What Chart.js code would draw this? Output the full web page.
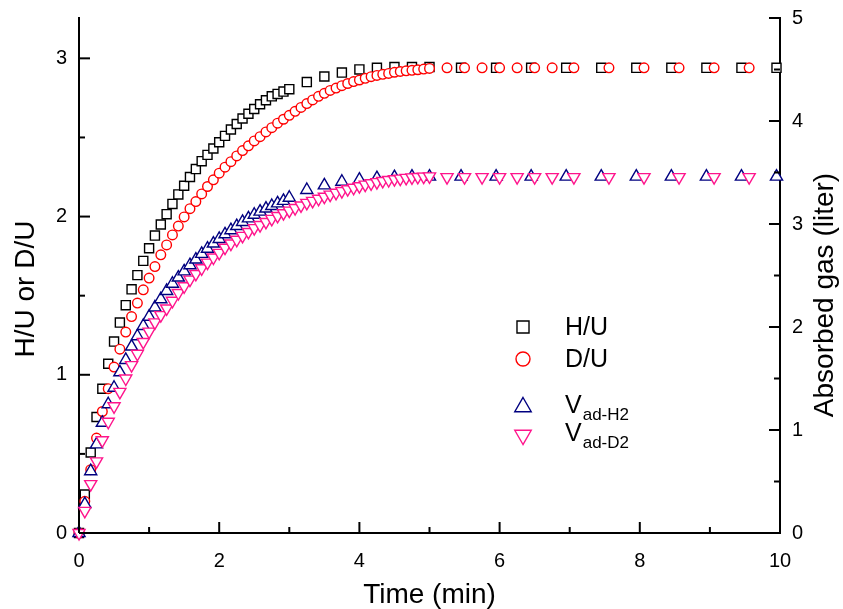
<!DOCTYPE html>
<html><head><meta charset="utf-8">
<script src="https://cdn.jsdelivr.net/npm/chart.js@4.4.1/dist/chart.umd.min.js"></script>
<style>html,body{margin:0;padding:0;background:#fff}#wrap{width:843px;height:609px;position:relative}</style>
</head><body><div id="wrap"><canvas id="c" width="843" height="609"></canvas></div>
<script>
// ---- data (time in min) ----
const TIME_H = [0,0.083,0.167,0.25,0.333,0.417,0.5,0.583,0.667,0.75,0.833,0.917,1,1.083,1.167,1.25,1.333,1.417,1.5,1.583,1.667,1.75,1.833,1.917,2,2.083,2.167,2.25,2.333,2.417,2.5,2.583,2.667,2.75,2.833,2.917,3,3.25,3.5,3.75,4,4.25,4.5,4.75,5,5.45,5.95,6.45,6.95,7.45,7.95,8.45,8.95,9.45,9.95];
const HU = [0,0.243,0.509,0.733,0.912,1.07,1.21,1.33,1.44,1.54,1.63,1.72,1.80,1.88,1.95,2.015,2.08,2.14,2.195,2.25,2.30,2.35,2.39,2.43,2.47,2.51,2.55,2.585,2.62,2.65,2.68,2.71,2.735,2.76,2.775,2.79,2.805,2.85,2.885,2.91,2.93,2.94,2.945,2.945,2.945,2.94,2.94,2.94,2.94,2.94,2.94,2.94,2.94,2.94,2.94];
const V_H2 = [0,0.28,0.60,0.86,1.07,1.25,1.41,1.56,1.68,1.81,1.91,2.01,2.10,2.19,2.27,2.35,2.42,2.48,2.54,2.60,2.655,2.71,2.76,2.81,2.855,2.90,2.94,2.98,3.02,3.055,3.09,3.12,3.15,3.175,3.20,3.225,3.255,3.33,3.375,3.41,3.43,3.445,3.455,3.46,3.46,3.46,3.46,3.46,3.46,3.46,3.46,3.46,3.46,3.46,3.46];
const TIME_D = [0,0.083,0.167,0.25,0.333,0.417,0.5,0.583,0.667,0.75,0.833,0.917,1,1.083,1.167,1.25,1.333,1.417,1.5,1.583,1.667,1.75,1.833,1.917,2,2.083,2.167,2.25,2.333,2.417,2.5,2.583,2.667,2.75,2.833,2.917,3,3.083,3.167,3.25,3.333,3.417,3.5,3.583,3.667,3.75,3.833,3.917,4,4.083,4.167,4.25,4.333,4.417,4.5,4.583,4.667,4.75,4.833,4.917,5,5.25,5.5,5.75,6,6.25,6.5,6.75,7.06,7.56,8.06,8.56,9.06,9.56];
const DU = [0,0.20,0.40,0.60,0.768,0.912,1.049,1.162,1.27,1.368,1.453,1.537,1.611,1.684,1.758,1.821,1.884,1.94,1.998,2.05,2.095,2.143,2.19,2.232,2.274,2.312,2.347,2.383,2.417,2.447,2.478,2.505,2.535,2.562,2.59,2.615,2.64,2.665,2.69,2.714,2.737,2.76,2.779,2.797,2.812,2.827,2.841,2.853,2.863,2.874,2.884,2.892,2.899,2.905,2.912,2.917,2.921,2.924,2.928,2.932,2.936,2.94,2.94,2.94,2.94,2.94,2.94,2.94,2.94,2.94,2.94,2.94,2.94,2.94];
const V_D2 = [0,0.215,0.475,0.695,0.90,1.08,1.23,1.37,1.50,1.63,1.74,1.855,1.955,2.045,2.115,2.18,2.255,2.33,2.395,2.46,2.515,2.57,2.625,2.675,2.72,2.77,2.81,2.847,2.885,2.923,2.96,2.99,3.02,3.05,3.078,3.105,3.13,3.155,3.18,3.205,3.225,3.245,3.265,3.285,3.303,3.32,3.338,3.352,3.367,3.382,3.395,3.407,3.418,3.427,3.435,3.441,3.448,3.453,3.457,3.46,3.462,3.455,3.455,3.455,3.455,3.455,3.455,3.455,3.455,3.455,3.455,3.455,3.455,3.455];

// ---- axes ----
const X_TICKS = [0,2,4,6,8,10];
const X_MINOR = [1,3,5,7,9];
const Y_TICKS = [0,1,2,3];
const Y_MINOR = [0.5,1.5,2.5];
const Y_MAX = 3.255;
const Y2_TICKS = [0,1,2,3,4,5];
const Y2_MINOR = [0.5,1.5,2.5,3.5,4.5];
const X_TITLE = 'Time (min)';
const Y_TITLE = 'H/U or D/U';
const Y2_TITLE = 'Absorbed gas (liter)';
const NAMES = ['H/U','D/U','V','V'];
const SUBS = ['','','ad-H2','ad-D2'];

const FONT = "'Liberation Sans', Arial, Helvetica, sans-serif";
const COLORS = ['#000000','#ff0000','#000080','#ff148c'];

const toXY = (xs, ys) => xs.map((x,i)=>({x:x, y:ys[i]}));

const inwardTicks = {
  id:'inwardTicks',
  afterDraw(chart){
    const ctx = chart.ctx, a = chart.chartArea;
    const sx = chart.scales.x, sy = chart.scales.y, sy2 = chart.scales.y2;
    const MAJ = 11, MIN = 6;
    ctx.save();
    ctx.strokeStyle = '#000'; ctx.lineWidth = 2; ctx.lineCap = 'butt';
    const seg = (x1,y1,x2,y2)=>{ctx.beginPath();ctx.moveTo(x1,y1);ctx.lineTo(x2,y2);ctx.stroke();};
    X_TICKS.forEach(v=>{const p=sx.getPixelForValue(v); seg(p,a.bottom,p,a.bottom-MAJ);});
    X_MINOR.forEach(v=>{const p=sx.getPixelForValue(v); seg(p,a.bottom,p,a.bottom-MIN);});
    Y_TICKS.forEach(v=>{const p=sy.getPixelForValue(v); seg(a.left,p,a.left+MAJ,p);});
    Y_MINOR.forEach(v=>{const p=sy.getPixelForValue(v); seg(a.left,p,a.left+MIN,p);});
    Y2_TICKS.forEach(v=>{const p=sy2.getPixelForValue(v); seg(a.right,p,a.right-MAJ,p);});
    Y2_MINOR.forEach(v=>{const p=sy2.getPixelForValue(v); seg(a.right,p,a.right-MIN,p);});
    // vertical axis titles (both read bottom-to-top)
    ctx.fillStyle = '#000';
    ctx.font = '28px ' + FONT;
    ctx.textAlign = 'center'; ctx.textBaseline = 'middle';
    ctx.save();
    ctx.translate(26, 289);
    ctx.rotate(-Math.PI/2);
    ctx.fillText(Y_TITLE, 0, 0);
    ctx.restore();
    ctx.translate(825, 295);
    ctx.rotate(-Math.PI/2);
    ctx.fillText(Y2_TITLE, 0, 0);
    ctx.restore();
  }
};

const customLegend = {
  id:'customLegend',
  afterDraw(chart){
    const ctx = chart.ctx;
    const rows = [
      {sx:523, sy:327, ty:335, style:'rect', r:8.5, rot:0},
      {sx:523, sy:359, ty:367, style:'circle', r:7, rot:0},
      {sx:523, sy:407, ty:413, style:'triangle', r:9.5, rot:0},
      {sx:523, sy:435, ty:441, style:'triangle', r:9.5, rot:180}
    ];
    ctx.save();
    rows.forEach((row,i)=>{
      ctx.strokeStyle = COLORS[i]; ctx.fillStyle = '#fff'; ctx.lineWidth = 1.4;
      Chart.helpers.drawPoint(ctx, {pointStyle:row.style, radius:row.r, rotation:row.rot, borderWidth:1.4}, row.sx, row.sy);
      ctx.fillStyle = '#000';
      ctx.textAlign = 'left'; ctx.textBaseline = 'alphabetic';
      ctx.font = '25px ' + FONT;
      ctx.fillText(NAMES[i], 565, row.ty);
      if (SUBS[i]) {
        const w = ctx.measureText(NAMES[i]).width;
        ctx.font = '17px ' + FONT;
        ctx.fillText(SUBS[i], 565 + w + 1, row.ty + 7);
      }
    });
    ctx.restore();
  }
};

function ds(label, xs, ys, axis, style, r, rot, color, order){
  return {label, data: toXY(xs, ys), yAxisID: axis, pointStyle: style, pointRadius: r, pointRotation: rot,
    pointBorderWidth: 1.4, borderColor: color, pointBorderColor: color, pointBackgroundColor: '#fff',
    backgroundColor: '#fff', showLine: false, clip: false, order};
}

const noPad = s => { s.paddingTop = 0; s.paddingBottom = 0; };

new Chart(document.getElementById('c'), {
  type: 'scatter',
  data: { datasets: [
    ds('H/U', TIME_H, HU, 'y', 'rect', 6.4, 0, COLORS[0], 4),
    ds('D/U', TIME_D, DU, 'y', 'circle', 4.8, 0, COLORS[1], 3),
    ds('V ad-H2', TIME_H, V_H2, 'y2', 'triangle', 7, 0, COLORS[2], 2),
    ds('V ad-D2', TIME_D, V_D2, 'y2', 'triangle', 7, 180, COLORS[3], 1)
  ]},
  options: {
    responsive: false, animation: false, devicePixelRatio: 1, events: [],
    layout: { padding: { top: 18, left: 0, right: 0, bottom: 0 }, autoPadding: false },
    plugins: { legend: { display: false }, tooltip: { enabled: false } },
    scales: {
      x: {
        type: 'linear', position: 'bottom', min: 0, max: 10,
        afterBuildTicks: s => { s.ticks = X_TICKS.map(v => ({value: v})); },
        afterFit: s => { s.height = 76; s.paddingLeft = 0; s.paddingRight = 0; },
        ticks: { font: {family: FONT, size: 20}, color: '#000', padding: 16, maxRotation: 0 },
        grid: { display: true, drawOnChartArea: false, drawTicks: false },
        border: { display: true, color: '#000', width: 2 },
        title: { display: true, text: X_TITLE, color: '#000', font: {family: FONT, size: 28, lineHeight: 1}, padding: {top: 0, bottom: 0} }
      },
      y: {
        type: 'linear', position: 'left', min: 0, max: Y_MAX,
        afterBuildTicks: s => { s.ticks = Y_TICKS.map(v => ({value: v})); },
        afterFit: s => { s.width = 79; noPad(s); },
        ticks: { font: {family: FONT, size: 20}, color: '#000', padding: 12 },
        grid: { display: true, drawOnChartArea: false, drawTicks: false },
        border: { display: true, color: '#000', width: 2 },
        title: { display: false, text: Y_TITLE }
      },
      y2: {
        type: 'linear', position: 'right', min: 0, max: 5,
        afterBuildTicks: s => { s.ticks = Y2_TICKS.map(v => ({value: v})); },
        afterFit: s => { s.width = 63; noPad(s); },
        ticks: { font: {family: FONT, size: 20}, color: '#000', padding: 12 },
        grid: { display: true, drawOnChartArea: false, drawTicks: false },
        border: { display: true, color: '#000', width: 2 },
        title: { display: false, text: Y2_TITLE }
      }
    }
  },
  plugins: [inwardTicks, customLegend]
});
</script></body></html>
